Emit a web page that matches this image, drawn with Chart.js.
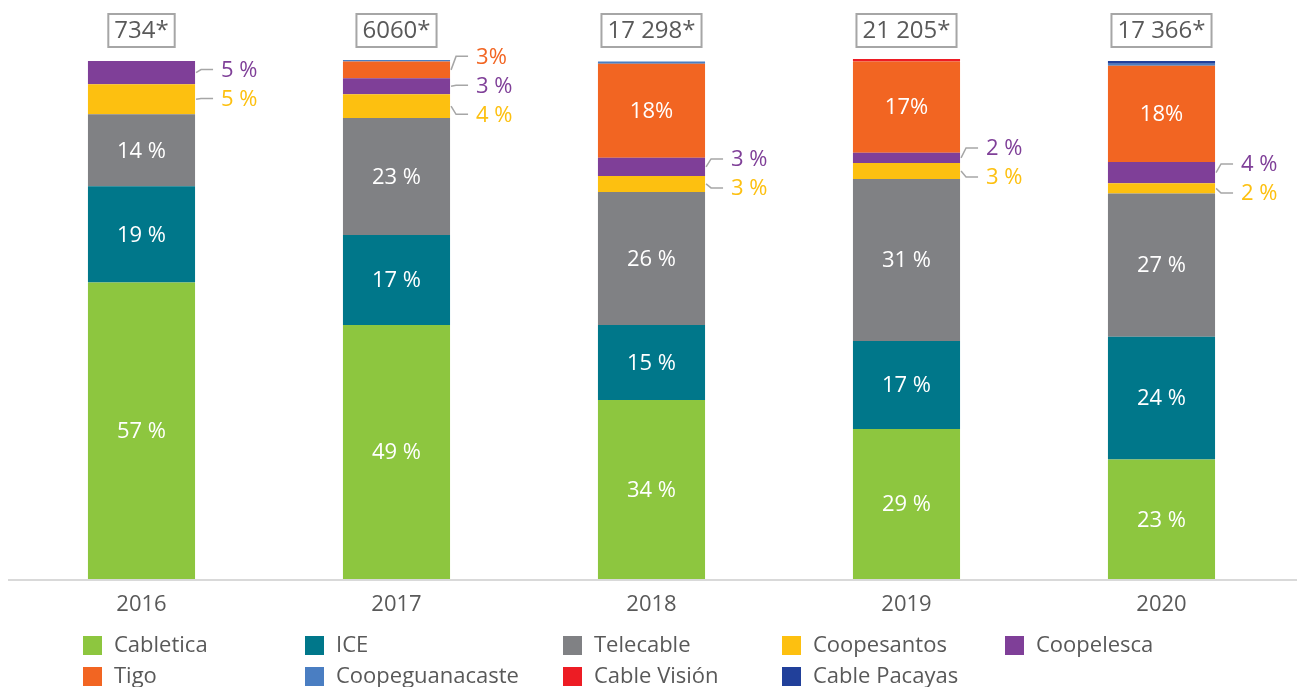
<!DOCTYPE html>
<html>
<head>
<meta charset="utf-8">
<script src="https://cdn.jsdelivr.net/npm/chart.js@4.4.1/dist/chart.umd.min.js"></script>
<style>
  html, body { margin: 0; padding: 0; background: #fff; }
  #wrap { width: 1297px; height: 687px; }
</style>
</head>
<body>
<div id="wrap"><canvas id="myChart" width="1297" height="687"></canvas></div>
<script>
var years = ['2016', '2017', '2018', '2019', '2020'];
var totals = ['734*', '6060*', '17 298*', '21 205*', '17 366*'];

// share of each operator (%)
var cabletica       = [57.3, 49.1, 34.6, 29.0, 23.1];
var ice             = [18.6, 17.4, 14.5, 17.0, 23.7];
var telecable       = [13.9, 22.6, 25.7, 31.3, 27.7];
var coopesantos     = [5.8, 4.6, 3.1, 3.1, 2.0];
var coopelesca      = [4.5, 3.1, 3.5, 2.0, 4.1];
var tigo            = [0, 3.2, 18.2, 17.6, 18.6];
var coopeguanacaste = [0, 0.3, 0.4, 0, 0.4];
var cableVision     = [0, 0, 0, 0.5, 0];
var cablePacayas    = [0, 0, 0, 0, 0.5];

// printed labels
var cableticaLabels   = ['57 %', '49 %', '34 %', '29 %', '23 %'];
var iceLabels         = ['19 %', '17 %', '15 %', '17 %', '24 %'];
var telecableLabels   = ['14 %', '23 %', '26 %', '31 %', '27 %'];
var coopesantosLabels = ['5 %', '4 %', '3 %', '3 %', '2 %'];
var coopelescaLabels  = ['5 %', '3 %', '3 %', '2 %', '4 %'];
var tigoLabels        = ['', '3%', '18%', '17%', '18%'];
var noLabels          = ['', '', '', '', ''];

var FONT = '"Open Sans", "DejaVu Sans", sans-serif';
var TEXT_GREY = '#595959';

var datasets = [
  { label: 'Cabletica', data: cabletica, backgroundColor: '#8DC63F', labels: cableticaLabels },
  { label: 'ICE', data: ice, backgroundColor: '#00778A', labels: iceLabels },
  { label: 'Telecable', data: telecable, backgroundColor: '#808184', labels: telecableLabels },
  { label: 'Coopesantos', data: coopesantos, backgroundColor: '#FDC010', labels: coopesantosLabels },
  { label: 'Coopelesca', data: coopelesca, backgroundColor: '#7F3F98', labels: coopelescaLabels },
  { label: 'Tigo', data: tigo, backgroundColor: '#F26522', labels: tigoLabels },
  { label: 'Coopeguanacaste', data: coopeguanacaste, backgroundColor: '#4A7EC2', labels: noLabels },
  { label: 'Cable Visión', data: cableVision, backgroundColor: '#ED1C24', labels: noLabels },
  { label: 'Cable Pacayas', data: cablePacayas, backgroundColor: '#21409A', labels: noLabels }
];

// axis line spans the full width, like the original
var axisLine = {
  id: 'axisLine',
  beforeDatasetsDraw: function (chart) {
    var ctx = chart.ctx, y = chart.chartArea.bottom + 1;
    ctx.save();
    ctx.strokeStyle = '#D9D9D9';
    ctx.lineWidth = 2;
    ctx.beginPath();
    ctx.moveTo(8, y);
    ctx.lineTo(1297, y);
    ctx.stroke();
    ctx.restore();
  }
};

var segmentLabels = {
  id: 'segmentLabels',
  afterDatasetsDraw: function (chart) {
    var ctx = chart.ctx;
    var outside = years.map(function () { return []; });
    ctx.save();
    ctx.font = '22px ' + FONT;
    ctx.textBaseline = 'middle';
    chart.data.datasets.forEach(function (ds, i) {
      var meta = chart.getDatasetMeta(i);
      meta.data.forEach(function (el, j) {
        var txt = ds.labels[j];
        if (!txt) return;
        var p = el.getProps(['x', 'y', 'base', 'width'], true);
        var cy = (p.y + p.base) / 2;
        if (ds.data[j] >= 7) {
          ctx.fillStyle = '#FFFFFF';
          ctx.textAlign = 'center';
          ctx.fillText(txt, p.x, cy + 1);
        } else {
          outside[j].push({ txt: txt, cy: cy, right: p.x + p.width / 2, color: ds.backgroundColor });
        }
      });
    });
    // small segments: labels beside the bar with leader lines
    outside.forEach(function (list) {
      if (!list.length) return;
      list.sort(function (a, b) { return a.cy - b.cy; });
      var ys = list.map(function (o) { return o.cy; });
      for (var k = 1; k < ys.length; k++) ys[k] = Math.max(ys[k], ys[k - 1] + 29);
      var shift = list.reduce(function (s, o, k) { return s + o.cy - ys[k]; }, 0) / ys.length - 2;
      list.forEach(function (o, k) {
        var ly = ys[k] + shift;
        ctx.strokeStyle = '#A6A6A6';
        ctx.lineWidth = 1.5;
        ctx.beginPath();
        ctx.moveTo(o.right + 1, o.cy);
        ctx.lineTo(o.right + 6, ly);
        ctx.lineTo(o.right + 18, ly);
        ctx.stroke();
        ctx.fillStyle = o.color;
        ctx.textAlign = 'left';
        ctx.fillText(o.txt, o.right + 26, ly + 1);
      });
    });
    ctx.restore();
  }
};

var totalBoxes = {
  id: 'totalBoxes',
  afterDatasetsDraw: function (chart) {
    var ctx = chart.ctx;
    var meta = chart.getDatasetMeta(0);
    ctx.save();
    ctx.font = '24px ' + FONT;
    ctx.textBaseline = 'middle';
    ctx.textAlign = 'center';
    meta.data.forEach(function (el, j) {
      var w = ctx.measureText(totals[j]).width + 12;
      var h = 33, cy = 30.5;
      ctx.strokeStyle = '#A6A6A6';
      ctx.lineWidth = 2;
      ctx.strokeRect(el.x - w / 2, cy - h / 2, w, h);
      ctx.fillStyle = TEXT_GREY;
      ctx.fillText(totals[j], el.x, cy + 1);
    });
    ctx.restore();
  }
};

var gridLegend = {
  id: 'gridLegend',
  afterDraw: function (chart) {
    var ctx = chart.ctx;
    var cols = [83, 305, 563, 782, 1005];
    var rows = [645, 676];
    ctx.save();
    ctx.font = '22px ' + FONT;
    ctx.textBaseline = 'middle';
    ctx.textAlign = 'left';
    chart.data.datasets.forEach(function (ds, i) {
      var x = cols[i % 5], y = rows[Math.floor(i / 5)];
      ctx.fillStyle = ds.backgroundColor;
      ctx.fillRect(x, y - 9, 19, 19);
      ctx.fillStyle = TEXT_GREY;
      ctx.fillText(ds.label, x + 31, y + 1);
    });
    ctx.restore();
  }
};

var ctx = document.getElementById('myChart').getContext('2d');
var myChart = new Chart(ctx, {
  type: 'bar',
  data: {
    labels: years,
    datasets: datasets.map(function (d) {
      return {
        label: d.label,
        data: d.data,
        labels: d.labels,
        backgroundColor: d.backgroundColor,
        borderWidth: 0,
        barPercentage: 0.42,
        categoryPercentage: 1
      };
    })
  },
  options: {
    responsive: false,
    animation: false,
    layout: { padding: { top: 59, left: 14, right: 8, bottom: 66 } },
    plugins: {
      legend: { display: false },
      tooltip: { enabled: false }
    },
    scales: {
      x: {
        stacked: true,
        grid: { display: false, drawTicks: false },
        border: { display: false },
        ticks: { color: TEXT_GREY, font: { family: FONT, size: 22 }, padding: 13 },
        afterFit: function (scale) { scale.height = 42; }
      },
      y: {
        stacked: true,
        display: false,
        min: 0,
        max: 100.5
      }
    }
  },
  plugins: [axisLine, segmentLabels, totalBoxes, gridLegend]
});
</script>
</body>
</html>
